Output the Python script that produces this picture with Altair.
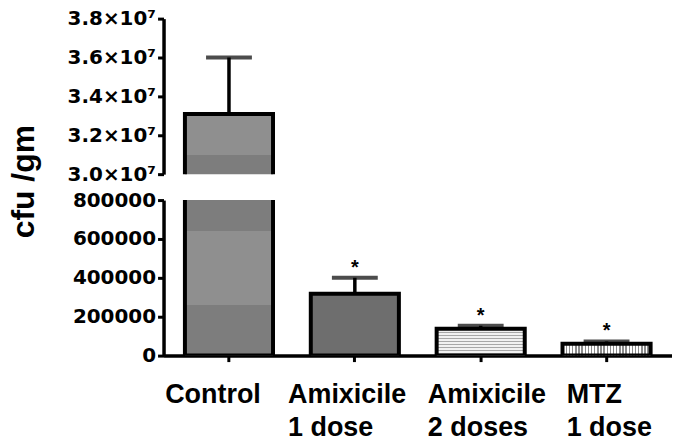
import altair as alt
import pandas as pd

categories = ["Control", "Amixicile|1 dose", "Amixicile|2 doses", "MTZ|1 dose"]
means = [3.31e7, 318000, 138000, 61500]
upper = [3.60e7, 400000, 154000, 73000]
stars = ["", "*", "*", "*"]
top_ticks = [3.0e7, 3.2e7, 3.4e7, 3.6e7, 3.8e7]
bottom_ticks = [0, 200000, 400000, 600000, 800000]

df = pd.DataFrame({"cat": categories, "mean": means, "upper": upper, "star": stars})


def stripes(n, dark, light, frac, vertical):
    stops = []
    for i in range(n):
        a, b, c = i / n, (i + frac) / n, (i + 1) / n
        stops += [
            {"offset": a, "color": dark},
            {"offset": b, "color": dark},
            {"offset": b, "color": light},
            {"offset": c, "color": light},
        ]
    g = {"gradient": "linear", "stops": stops, "x1": 0, "y1": 0, "x2": 0, "y2": 0}
    if vertical:
        g["x2"] = 1
    else:
        g["y2"] = 1
    return g


def bands(top_value, pieces):
    # pieces: list of (value_from_top_boundary, colour) going downwards
    stops = []
    prev = 0.0
    for v, col in pieces:
        f = (top_value - v) / top_value
        stops += [{"offset": prev, "color": col}, {"offset": f, "color": col}]
        prev = f
    return {"gradient": "linear", "stops": stops, "x1": 0, "y1": 0, "x2": 0, "y2": 1}


LIGHT, DARK = "#8f8f8f", "#7d7d7d"
control_top = bands(means[0], [(3.1e7, LIGHT), (0, DARK)])
control_bottom = bands(means[0], [(640000, DARK), (260000, LIGHT), (0, DARK)])

fills = {
    "Amixicile|1 dose": "#6e6e6e",
    "Amixicile|2 doses": stripes(9, "#a8a8a8", "#f2f2f2", 0.45, False),
    "MTZ|1 dose": stripes(28, "#8c8c8c", "#ffffff", 0.45, True),
}

label_offset = {
    "condition": [
        {"test": "datum.value == 'Control'", "value": -64},
        {"test": "datum.value == 'Amixicile|1 dose'", "value": -67},
        {"test": "datum.value == 'Amixicile|2 doses'", "value": -53},
    ],
    "value": -40,
}

xscale = alt.Scale(paddingInner=0.3, paddingOuter=0.17)

x_axis_bottom = alt.Axis(
    title=None, labelExpr="split(datum.label, '|')", labelAngle=0,
    labelFont="Liberation Sans", labelFontWeight="bold", labelFontSize=27,
    labelColor="black", labelAlign="left", labelBaseline="top",
    labelOffset=label_offset, labelPadding=20, labelLineHeight=33,
    domainColor="black", domainWidth=3.5, tickColor="black", tickWidth=3,
    tickSize=6, grid=False,
)

common_y = dict(
    grid=False, labelFont="DejaVu Sans", labelFontWeight="bold",
    labelFontSize=20, labelColor="black", labelPadding=2,
    domainColor="black", domainWidth=3.5, tickColor="black", tickWidth=3,
    tickSize=6,
)

y_axis_top = alt.Axis(
    title=None, values=top_ticks,
    labelExpr="format(datum.value / 1e7, '.1f') + '×10⁷'", **common_y,
)
y_axis_bottom = alt.Axis(
    title="cfu /gm", values=bottom_ticks, labelExpr="format(datum.value, 'd')",
    titleFont="Liberation Sans", titleFontWeight="bold", titleFontSize=32,
    titleColor="black", titleAngle=-90, titleX=-123, titleY=-19,
    titleAlign="center", titleBaseline="bottom", **common_y,
)


def panel(domain, yaxis, xaxis, height, control_fill):
    yscale = alt.Scale(domain=domain, nice=False, zero=False)
    x = alt.X("cat:N", sort=categories, scale=xscale, axis=xaxis)

    def Y(field):
        return alt.Y(field, type="quantitative", scale=yscale, axis=yaxis)

    panel_fills = dict(fills, Control=control_fill)
    base = alt.Chart(df)
    layers = []
    stem = base.mark_rule(clip=True, color="black", strokeWidth=3.5).encode(
        x=x, y=Y("mean"), y2="upper")
    layers.append(stem)
    for c in categories:
        layers.append(
            base.transform_filter(alt.datum.cat == c)
            .mark_bar(clip=True, fill=panel_fills[c], stroke="black", strokeWidth=4,
                      strokeJoin="miter")
            .encode(x=x, y=Y("mean"), y2=alt.datum(0))
        )
    cap = base.mark_tick(clip=True, color="black", thickness=4, size=46,
                         orient="horizontal").encode(x=x, y=Y("upper"))
    star = base.mark_text(clip=True, font="Liberation Sans", fontWeight="bold",
                          fontSize=20, color="black", baseline="alphabetic",
                          dy=-4).encode(x=x, y=Y("upper"), text="star:N")
    layers += [cap, star]
    return alt.layer(*layers).properties(width=510, height=height)


top = panel([3.0e7, 3.8e7], y_axis_top, None, 156, control_top)
bottom = panel([0, 800000], y_axis_bottom, x_axis_bottom, 156, control_bottom)

chart = alt.vconcat(top, bottom, spacing=26, bounds="flush").properties(
    padding={"left": 0, "top": 0, "right": 0, "bottom": 0}
).configure_view(stroke=None)

chart.save("out.html", embed_options={"renderer": "svg", "actions": False})
